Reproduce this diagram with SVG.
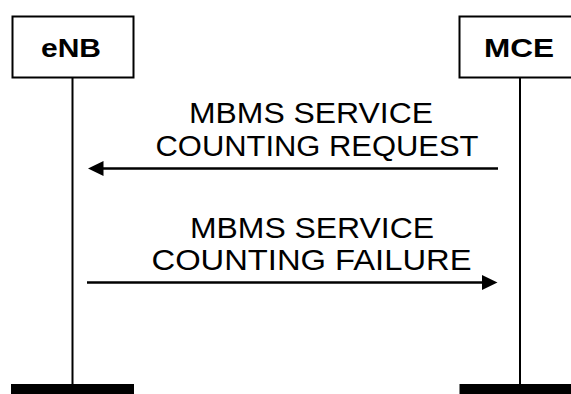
<svg xmlns="http://www.w3.org/2000/svg" width="571" height="394" viewBox="0 0 571 394">
<style>
.box{fill:#fff;stroke:#000;stroke-width:2}
.life{stroke:#000;stroke-width:2;fill:none}
.bar{fill:#000}
.msg{stroke:#000;stroke-width:2.5;fill:none}
.head{fill:#000}
.ent{font-family:"Liberation Sans",Arial,sans-serif;font-weight:bold;font-size:26px;fill:#000}
.lbl{font-family:"Liberation Sans",Arial,sans-serif;font-size:30px;fill:#000}
</style>
<rect width="571" height="394" fill="#fff"/>
<g id="eNB">
<line class="life" x1="72.5" y1="77" x2="72.5" y2="385"/>
<rect class="box" x="12.5" y="16.5" width="121" height="61"/>
<text class="ent" x="41" y="57" textLength="60" lengthAdjust="spacingAndGlyphs">eNB</text>
<rect class="bar" x="11" y="384" width="123" height="10"/>
</g>
<g id="MCE">
<line class="life" x1="520" y1="77" x2="520" y2="385"/>
<rect class="box" x="459.5" y="16.5" width="121" height="61"/>
<text class="ent" x="484" y="57" textLength="70" lengthAdjust="spacingAndGlyphs">MCE</text>
<rect class="bar" x="459.5" y="384" width="123" height="10"/>
</g>
<g id="connectors">
<g id="msg1">
<line class="msg" x1="498" y1="168.5" x2="100" y2="168.5"/>
<polygon class="head" points="88,168.5 103.5,161 103.5,176"/>
<text class="lbl" x="189" y="123" textLength="244" lengthAdjust="spacingAndGlyphs">MBMS SERVICE</text>
<text class="lbl" x="155.5" y="155.5" textLength="323" lengthAdjust="spacingAndGlyphs">COUNTING REQUEST</text>
</g>
<g id="msg2">
<line class="msg" x1="87" y1="282.5" x2="485" y2="282.5"/>
<polygon class="head" points="497.5,282.5 482,275 482,290"/>
<text class="lbl" x="190" y="237.5" textLength="244" lengthAdjust="spacingAndGlyphs">MBMS SERVICE</text>
<text class="lbl" x="151.5" y="269.5" textLength="320" lengthAdjust="spacingAndGlyphs">COUNTING FAILURE</text>
</g>
</g>
</svg>
